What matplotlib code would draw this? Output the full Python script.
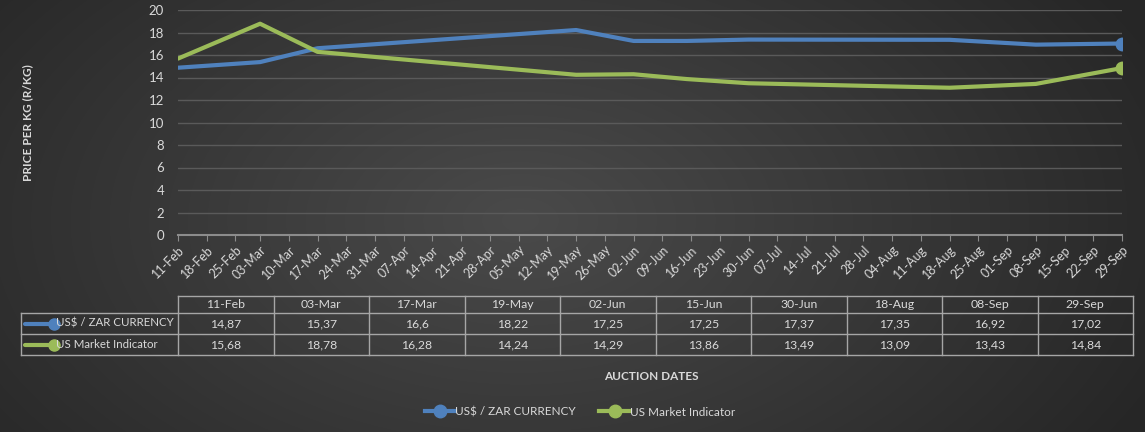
import matplotlib.pyplot as plt
import numpy as np
import pandas as pd
from matplotlib.lines import Line2D

plt.rcParams['font.family'] = ['Lato', 'DejaVu Sans']

week_labels = ['11-Feb', '18-Feb', '25-Feb', '03-Mar', '10-Mar', '17-Mar', '24-Mar', '31-Mar',
               '07-Apr', '14-Apr', '21-Apr', '28-Apr', '05-May', '12-May', '19-May', '26-May',
               '02-Jun', '09-Jun', '16-Jun', '23-Jun', '30-Jun', '07-Jul', '14-Jul', '21-Jul',
               '28-Jul', '04-Aug', '11-Aug', '18-Aug', '25-Aug', '01-Sep', '08-Sep', '15-Sep',
               '22-Sep', '29-Sep']
auction_dates = ['11-Feb', '03-Mar', '17-Mar', '19-May', '02-Jun', '15-Jun', '30-Jun',
                 '18-Aug', '08-Sep', '29-Sep']
usd_zar = [14.87, 15.37, 16.6, 18.22, 17.25, 17.25, 17.37, 17.35, 16.92, 17.02]
us_market = [15.68, 18.78, 16.28, 14.24, 14.29, 13.86, 13.49, 13.09, 13.43, 14.84]
series_names = ['US$ / ZAR CURRENCY', 'US Market Indicator']
series_colors = ['#4F81BD', '#9BBB59']


def to_dates(labels):
    return pd.to_datetime([l + '-2019' for l in labels], format='%d-%b-%Y')


W, H = 1145, 432
fig = plt.figure(figsize=(W / 100, H / 100), dpi=100)

# background radial gradient
bg = fig.add_axes([0, 0, 1, 1], zorder=-10)
yy, xx = np.mgrid[0:H, 0:W]
r = np.sqrt(((xx - 520) / 700.0) ** 2 + ((yy - 220) / 420.0) ** 2)
shade = np.clip(0.29 - 0.14 * r, 0.15, 0.3)
bg.imshow(np.dstack([shade] * 3), extent=[0, W, H, 0], aspect='auto')
bg.set_xlim(0, W)
bg.set_ylim(H, 0)
bg.axis('off')

txt = '#d9d9d9'
grid_c = '#5a5a5a'

ax = fig.add_axes([178 / W, 1 - 235 / H, (1122 - 178) / W, (235 - 10) / H])
ax.patch.set_alpha(0)
week_d = to_dates(week_labels)
x_pos = to_dates(auction_dates)
for vals, col in zip([usd_zar, us_market], series_colors):
    ax.plot(x_pos, vals, color=col, lw=3, solid_capstyle='round', zorder=3)
    ax.plot(x_pos[-1:], vals[-1:], 'o', color=col, ms=9, zorder=4)
ax.set_xlim(week_d[0], week_d[-1])
ax.set_ylim(0, 20)
ax.set_yticks(range(0, 21, 2))
ax.set_xticks(week_d)
ax.set_xticklabels(week_labels, rotation=45, ha='right', rotation_mode='anchor')
ax.yaxis.grid(True, color=grid_c, lw=1)
ax.set_axisbelow(True)
for s in ['top', 'right', 'left']:
    ax.spines[s].set_visible(False)
ax.spines['bottom'].set_color('#8c8c8c')
ax.spines['bottom'].set_linewidth(1.5)
ax.tick_params(axis='y', length=0, colors=txt, labelsize=9.5, pad=10)
ax.tick_params(axis='x', length=4, color='#8c8c8c', colors=txt, labelsize=9, pad=2)
ax.set_ylabel('PRICE PER KG (R/KG)', color=txt, fontsize=8.5, fontweight='bold', labelpad=0)
ax.yaxis.set_label_coords(-145 / 944, 0.5)

# data table drawn in pixel coordinates on an overlay
ov = fig.add_axes([0, 0, 1, 1], zorder=5)
ov.set_xlim(0, W)
ov.set_ylim(H, 0)
ov.axis('off')
tbl_left, tbl_right, lab_left = 178, 1133, 21
row_y = [296, 313, 334, 355]
col_w = (tbl_right - tbl_left) / len(auction_dates)
lc = '#a6a6a6'
ov.plot([tbl_left, tbl_right], [row_y[0]] * 2, color=lc, lw=1)
for yv in row_y[1:]:
    ov.plot([lab_left, tbl_right], [yv] * 2, color=lc, lw=1)
ov.plot([lab_left, lab_left], [row_y[1], row_y[3]], color=lc, lw=1)
for i in range(len(auction_dates) + 1):
    ov.plot([tbl_left + i * col_w] * 2, [row_y[0], row_y[3]], color=lc, lw=1)
for i, d in enumerate(auction_dates):
    cx = tbl_left + (i + 0.5) * col_w
    ov.text(cx, (row_y[0] + row_y[1]) / 2, d, color=txt, fontsize=8.8, ha='center', va='center')
    for j, vals in enumerate([usd_zar, us_market]):
        s = f'{vals[i]:g}'.replace('.', ',')
        ov.text(cx, (row_y[j + 1] + row_y[j + 2]) / 2, s, color=txt, fontsize=8.8,
                ha='center', va='center')
for j, (name, col) in enumerate(zip(series_names, series_colors)):
    cy = (row_y[j + 1] + row_y[j + 2]) / 2
    ov.plot([25, 54], [cy, cy], color=col, lw=3, solid_capstyle='round')
    ov.plot([54], [cy], 'o', color=col, ms=8)
    ov.text(56, cy, name, color=txt, fontsize=8.3, ha='left', va='center')

ov.text(651, 376, 'AUCTION DATES', color=txt, fontsize=8.5, fontweight='bold',
        ha='center', va='center')

handles = [Line2D([0, 1], [0, 0], color=c, lw=3, marker='o', ms=9, markevery=[1])
           for c in series_colors]
leg = fig.legend(handles, series_names, loc='center', bbox_to_anchor=(580 / W, 1 - 412 / H),
                 ncol=2, frameon=False, fontsize=8.5, labelcolor=txt, handlelength=2.6,
                 handletextpad=0.0, columnspacing=2.0)

fig.savefig('out.png', dpi=100)
